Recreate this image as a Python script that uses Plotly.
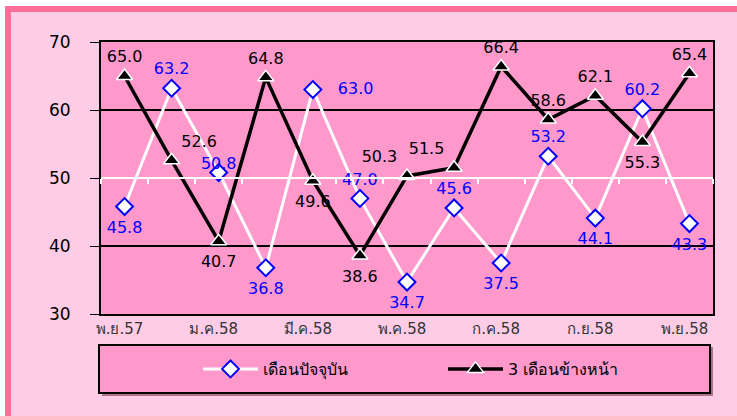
import plotly.graph_objects as go

months = ["พ.ย.57", "ธ.ค.57", "ม.ค.58", "ก.พ.58", "มี.ค.58", "เม.ย.58", "พ.ค.58",
          "มิ.ย.58", "ก.ค.58", "ส.ค.58", "ก.ย.58", "ต.ค.58", "พ.ย.58"]
current = [45.8, 63.2, 50.8, 36.8, 63.0, 47.0, 34.7, 45.6, 37.5, 53.2, 44.1, 60.2, 43.3]
ahead = [65.0, 52.6, 40.7, 64.8, 49.6, 38.6, 50.3, 51.5, 66.4, 58.6, 62.1, 55.3, 65.4]

pos_current = ["bottom center", "top center", "top center", "bottom center", "middle right",
               "top center", "bottom center", "top center", "bottom center", "top center",
               "bottom center", "top center", "bottom center"]
pos_ahead = ["top center", "top right", "bottom center", "top center", "bottom center",
             "bottom center", "top left", "top left", "top center", "top center",
             "top center", "bottom center", "top center"]

# plot area in pixels
L, R, T, B = 101, 713, 42, 314
W, H = 737, 416


def px(x):
    return (x - L) / (R - L)


def py(y):
    return (B - y) / (B - T)


FONT = "DejaVu Sans, Tahoma, sans-serif"
xs = list(range(len(months)))

lab_current = [f"{v:.1f}" for v in current]
lab_current[4] = "\u00a0\u00a0\u00a0" + lab_current[4]  # 63.0 sits well to the right
lab_ahead = [f"{v:.1f}" for v in ahead]


def label_sizes(pos):
    # labels below the point sit a little further away than the ones above it
    return [21 if p.startswith("bottom") else 14 for p in pos]


gap_current = label_sizes(pos_current)
gap_current[2] = 0  # 50.8 hugs its marker
gap_ahead = label_sizes(pos_ahead)

fig = go.Figure()
fig.add_trace(go.Scatter(
    x=xs, y=current, name="เดือนปัจจุบัน", mode="lines+markers",
    line=dict(color="white", width=3),
    marker=dict(symbol="diamond", size=13, color="white", line=dict(color="#0000FF", width=2)),
    cliponaxis=False, legend="legend",
))
fig.add_trace(go.Scatter(
    x=xs, y=ahead, name="3 เดือนข้างหน้า", mode="lines+markers",
    line=dict(color="black", width=3.5),
    marker=dict(symbol="triangle-up", size=14, color="black", line=dict(color="white", width=1.5)),
    cliponaxis=False, legend="legend2",
))
# data labels
fig.add_trace(go.Scatter(
    x=xs, y=current, mode="markers+text", showlegend=False, hoverinfo="skip",
    marker=dict(size=gap_current, color="rgba(0,0,0,0)", line=dict(width=0)),
    text=lab_current, textposition=pos_current,
    textfont=dict(color="#0000FF", size=16, family=FONT), cliponaxis=False,
))
fig.add_trace(go.Scatter(
    x=xs, y=ahead, mode="markers+text", showlegend=False, hoverinfo="skip",
    marker=dict(size=gap_ahead, color="rgba(0,0,0,0)", line=dict(width=0)),
    text=lab_ahead, textposition=pos_ahead,
    textfont=dict(color="black", size=16, family=FONT), cliponaxis=False,
))

shapes = [
    # outer pink frame
    dict(type="rect", xref="paper", yref="paper", layer="below",
         x0=px(8), x1=px(742), y0=py(9), y1=py(420),
         line=dict(color="#FF6E98", width=6), fillcolor="#FFCCE5"),
    # plot area fill
    dict(type="rect", xref="paper", yref="paper", layer="below",
         x0=0, x1=1, y0=0, y1=1, line=dict(width=0), fillcolor="#FF99CC"),
    # legend box shadow + box
    dict(type="rect", xref="paper", yref="paper", layer="below",
         x0=px(102), x1=px(713), y0=py(347), y1=py(396),
         line=dict(width=0), fillcolor="#B07090"),
    dict(type="rect", xref="paper", yref="paper", layer="below",
         x0=px(99), x1=px(710), y0=py(345), y1=py(393),
         line=dict(color="black", width=2), fillcolor="#FF99CC"),
]

leg = dict(bgcolor="rgba(0,0,0,0)", itemwidth=55, yanchor="middle", y=py(369),
           font=dict(size=16, family=FONT, color="black"))

fig.update_layout(
    width=W, height=H,
    margin=dict(l=L, r=W - R, t=T, b=H - B),
    paper_bgcolor="white", plot_bgcolor="#FF99CC",
    font=dict(family=FONT, size=14, color="black"),
    shapes=shapes,
    showlegend=True,
    legend=dict(leg, x=px(198), xanchor="left"),
    legend2=dict(leg, x=px(443), xanchor="left"),
    xaxis=dict(range=[-0.5, 12.5], tickmode="array", tickvals=xs[::2], ticktext=months[::2],
               showgrid=False, showline=True, linecolor="black", linewidth=2, mirror=True,
               ticks="", zeroline=False, ticklabelshift=-5,
               tickfont=dict(size=15, color="#333333", family=FONT)),
    xaxis2=dict(range=[-0.5, 12.5], overlaying="x", anchor="free", position=0.5,
                tickmode="linear", tick0=-0.5, dtick=1, showticklabels=False,
                showline=True, linecolor="white", linewidth=2, ticks="outside",
                tickcolor="white", ticklen=5, tickwidth=1.5, showgrid=False, zeroline=False),
    yaxis=dict(range=[30, 70], dtick=10, showgrid=True, gridcolor="black", gridwidth=1.5,
               showline=True, linecolor="black", linewidth=2, mirror=True,
               ticks="outside", ticklen=9, tickcolor="black", zeroline=False,
               ticklabelstandoff=16,
               tickfont=dict(size=17, color="black", family=FONT)),
)

# dummy trace so the axis crossing at 50 is drawn
fig.add_trace(go.Scatter(x=[None], y=[None], xaxis="x2", showlegend=False, hoverinfo="skip"))

# the page's default body margin would shift the chart by 8px
fig.write_html("out.html", config={"displayModeBar": False},
               post_script="document.body.style.margin='0';")
